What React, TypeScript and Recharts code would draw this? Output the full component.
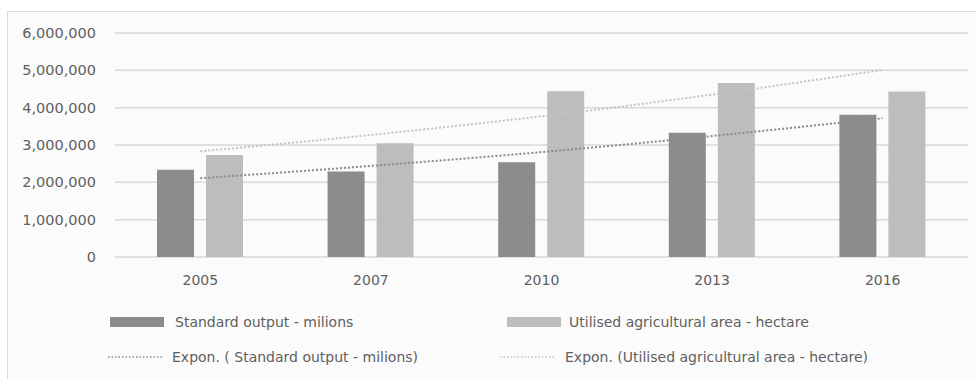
import React from "react";
import { ComposedChart, Bar, Line, XAxis, YAxis, CartesianGrid, Legend } from "recharts";

const years = ["2005", "2007", "2010", "2013", "2016"];
const standardOutput = [2340000, 2290000, 2540000, 3330000, 3810000];
const agriculturalArea = [2730000, 3050000, 4440000, 4660000, 4430000];
const expStandardOutput = [2110000, 2440000, 2810000, 3240000, 3720000];
const expAgriculturalArea = [2830000, 3270000, 3770000, 4350000, 5010000];
const yTicks = [0, 1000000, 2000000, 3000000, 4000000, 5000000, 6000000];

const seriesNames = {
  so: "Standard output - milions",
  ua: "Utilised agricultural area - hectare",
  eso: "Expon. ( Standard output - milions)",
  eua: "Expon. (Utilised agricultural area - hectare)",
};

const data = years.map((y, i) => ({
  year: y,
  so: standardOutput[i],
  ua: agriculturalArea[i],
  eso: expStandardOutput[i],
  eua: expAgriculturalArea[i],
}));

const FONT = "'DejaVu Sans', sans-serif";
const TEXT = "#5f5f5f";
const DARK = "#8c8c8c";
const LIGHT = "#bdbdbd";

const fmt = (v: number) => v.toLocaleString("en-US");

const LegendContent = () => {
  const item = (kind: "bar" | "dot", color: string, label: string, left: number, top: number, textLeft: number) => (
    <div style={{ position: "absolute", left, top, height: 20, display: "flex", alignItems: "center" }}>
      {kind === "bar" ? (
        <div style={{ width: 54, height: 10, background: color }} />
      ) : (
        <svg width={56} height={4} style={{ display: "block" }}>
          <line x1={0} y1={2} x2={56} y2={2} stroke={color} strokeWidth={1.5} strokeDasharray="1.5 2" />
        </svg>
      )}
      <span style={{ marginLeft: textLeft, fontFamily: FONT, fontSize: 14, color: TEXT, whiteSpace: "nowrap" }}>{label}</span>
    </div>
  );
  return (
    <div style={{ position: "relative", width: 976, height: 70 }}>
      {item("bar", DARK, seriesNames.so, 110, 0, 11)}
      {item("bar", LIGHT, seriesNames.ua, 507, 0, 8)}
      {item("dot", "#8a8a8a", seriesNames.eso, 108, 35, 8)}
      {item("dot", "#c4c4c4", seriesNames.eua, 500, 35, 9)}
    </div>
  );
};

export default function App() {
  return (
    <div style={{ position: "absolute", left: 0, top: 0, width: 976, height: 379, background: "#ffffff", overflow: "hidden" }}>
      <div
        style={{
          position: "absolute",
          left: 7,
          top: 11,
          width: 990,
          height: 400,
          border: "1px solid #dadada",
          background: "#fbfbfb",
        }}
      />
      <div style={{ position: "absolute", left: 0, top: 0 }}>
        <ComposedChart
          width={976}
          height={379}
          data={data}
          margin={{ top: 33, right: 8, bottom: 0, left: 0 }}
          barCategoryGap="25%"
          barGap={12}
        >
          <CartesianGrid vertical={false} stroke="#d9d9d9" strokeWidth={1.5} />
          <XAxis
            dataKey="year"
            axisLine={false}
            tickLine={false}
            tickSize={0}
            tickMargin={18}
            height={52}
            tick={{ fontFamily: FONT, fontSize: 14, fill: TEXT }}
          />
          <YAxis
            width={115}
            domain={[0, 6000000]}
            ticks={yTicks}
            interval={0}
            axisLine={false}
            tickLine={false}
            tickSize={0}
            tickMargin={19}
            tickFormatter={fmt}
            tick={{ fontFamily: FONT, fontSize: 14.5, fill: TEXT }}
          />
          <Bar dataKey="so" name={seriesNames.so} fill={DARK} barSize={37} isAnimationActive={false} />
          <Bar dataKey="ua" name={seriesNames.ua} fill={LIGHT} barSize={37} isAnimationActive={false} />
          <Line
            dataKey="eso"
            name={seriesNames.eso}
            type="monotone"
            stroke="#8a8a8a"
            strokeWidth={2}
            strokeDasharray="2 2"
            dot={false}
            activeDot={false}
            isAnimationActive={false}
          />
          <Line
            dataKey="eua"
            name={seriesNames.eua}
            type="monotone"
            stroke="#c4c4c4"
            strokeWidth={2}
            strokeDasharray="2 2"
            dot={false}
            activeDot={false}
            isAnimationActive={false}
          />
          <Legend
            content={<LegendContent />}
            wrapperStyle={{ position: "absolute", left: 0, top: 312, width: 976, height: 70 }}
          />
        </ComposedChart>
      </div>
    </div>
  );
}
